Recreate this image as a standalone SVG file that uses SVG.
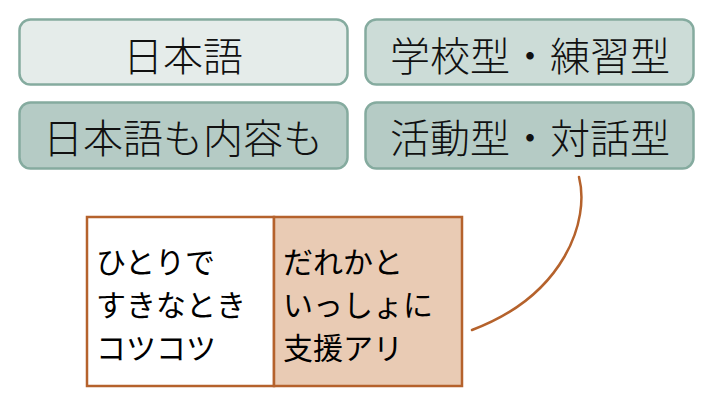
<svg xmlns="http://www.w3.org/2000/svg" width="716" height="410" viewBox="0 0 716 410">
<style>
.tb{stroke:#85ab9f;stroke-width:2.5}
.t1{font-family:"Noto Sans CJK JP","Noto Sans CJK SC",sans-serif;font-size:40px;font-weight:300;fill:#111;text-anchor:middle;dominant-baseline:central}
.t2{font-family:"Noto Sans CJK JP","Noto Sans CJK SC",sans-serif;font-size:30px;font-weight:400;fill:#000;dominant-baseline:central}
.bb{stroke:#b5622c;stroke-width:2.5}
</style>
<rect width="716" height="410" fill="#fff"/>
<g id="node-nihongo">
<rect class="tb" x="19.5" y="19.5" width="328" height="65" rx="11" fill="#e5ecea"/>
<text class="t1" x="183" y="54">日本語</text>
</g>
<g id="node-gakko">
<rect class="tb" x="365.5" y="19.5" width="328" height="65" rx="11" fill="#ccdcd7"/>
<text class="t1" x="530" y="54">学校型・練習型</text>
</g>
<g id="node-naiyou">
<rect class="tb" x="19.5" y="102.5" width="328" height="66" rx="11" fill="#b5cbc5"/>
<text class="t1" x="183" y="136">日本語も内容も</text>
</g>
<g id="node-katsudo">
<rect class="tb" x="365.5" y="102.5" width="328" height="66" rx="11" fill="#b5cbc5"/>
<text class="t1" x="530" y="136">活動型・対話型</text>
</g>
<g id="node-hitori">
<rect class="bb" x="87" y="217" width="187" height="169" fill="#fff"/>
<text class="t2" x="96" y="260">ひとりで</text>
<text class="t2" x="96" y="303">すきなとき</text>
<text class="t2" x="96" y="346">コツコツ</text>
</g>
<g id="node-dareka">
<rect class="bb" x="274" y="217" width="188" height="169" fill="#e9cbb4"/>
<text class="t2" x="283" y="260">だれかと</text>
<text class="t2" x="283" y="303">いっしょに</text>
<text class="t2" x="283" y="346">支援アリ</text>
</g>
<g id="connectors">
<path d="M579,177 C590,220 565,295 472,330" fill="none" stroke="#b5622c" stroke-width="2.5" stroke-linecap="round"/>
</g>
</svg>
